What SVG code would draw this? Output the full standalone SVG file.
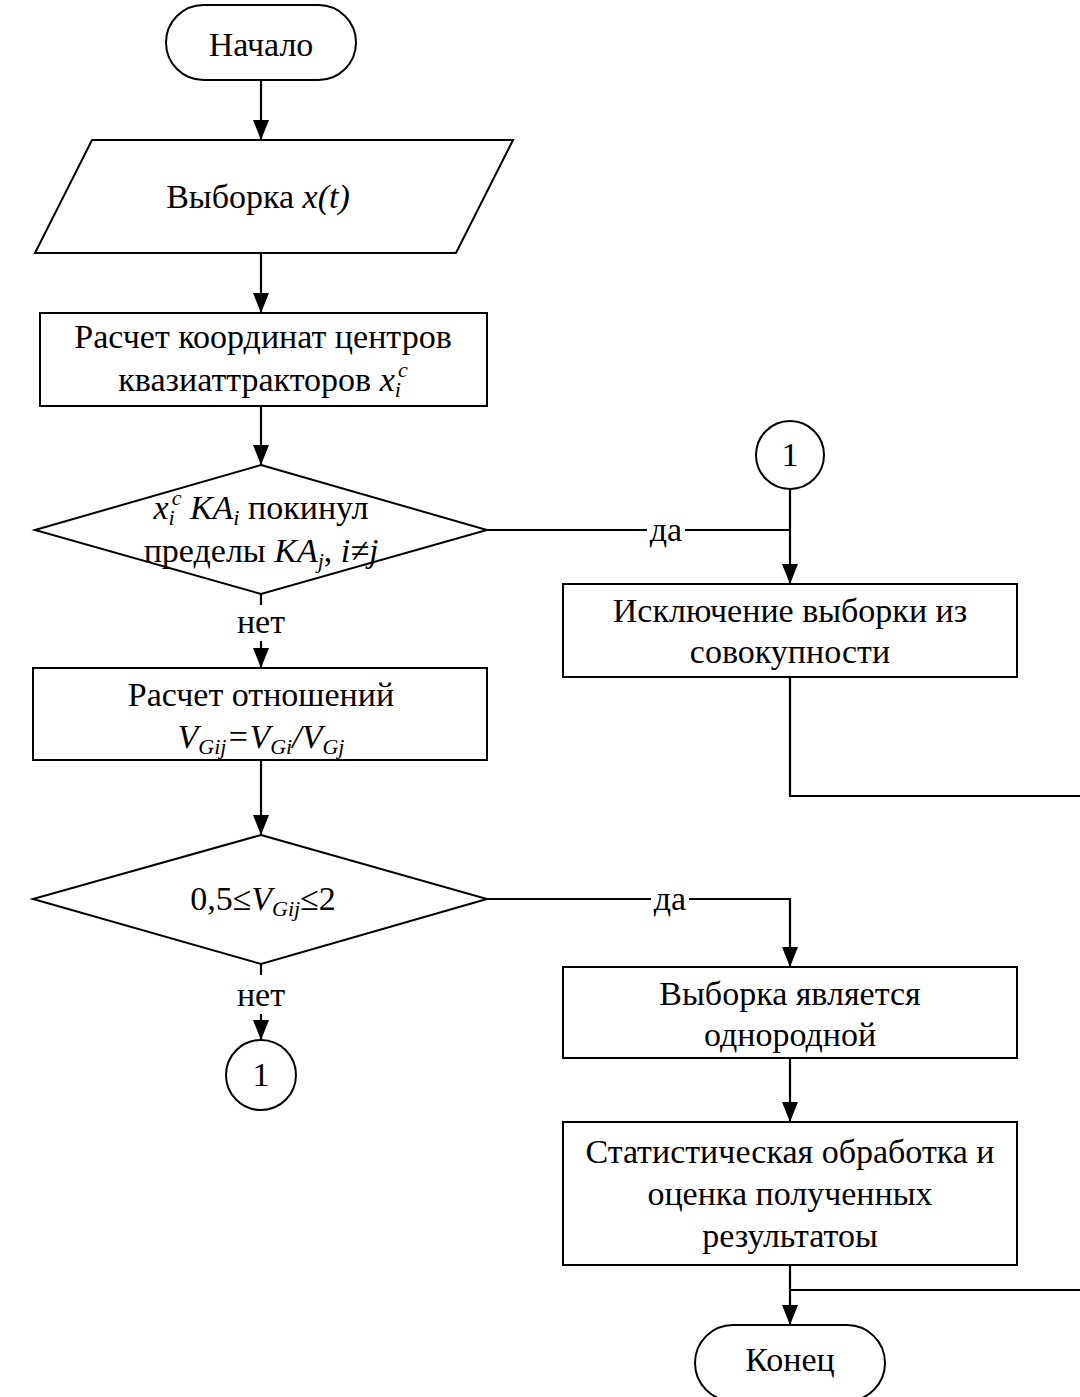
<svg xmlns="http://www.w3.org/2000/svg" width="1080" height="1397" viewBox="0 0 1080 1397">
<defs>
<style>
.s{fill:#fff;stroke:#000;stroke-width:2}
.c{fill:none;stroke:#000;stroke-width:2.2}
.t{font-family:"Liberation Serif","Times New Roman",serif;font-size:34px;fill:#000;text-anchor:middle}
.i{font-style:italic}
.sb{font-size:22px;font-style:italic}
</style>
<marker id="ah" markerUnits="userSpaceOnUse" markerWidth="20" markerHeight="16" refX="20" refY="8" orient="auto">
<path d="M0,0 L20,8 L0,16 z" fill="#000"/>
</marker>
</defs>
<rect width="1080" height="1397" fill="#fff"/>

<g id="connectors">
<line class="c" x1="261" y1="80" x2="261" y2="140" marker-end="url(#ah)"/>
<line class="c" x1="261" y1="253" x2="261" y2="313" marker-end="url(#ah)"/>
<line class="c" x1="261" y1="406" x2="261" y2="465" marker-end="url(#ah)"/>
<line class="c" x1="261" y1="594" x2="261" y2="605"/>
<line class="c" x1="261" y1="641" x2="261" y2="668" marker-end="url(#ah)"/>
<line class="c" x1="487" y1="530" x2="790" y2="530"/>
<line class="c" x1="790" y1="489" x2="790" y2="584" marker-end="url(#ah)"/>
<polyline class="c" points="790,677 790,796 1084,796"/>
<line class="c" x1="261" y1="760" x2="261" y2="835" marker-end="url(#ah)"/>
<line class="c" x1="261" y1="964" x2="261" y2="975"/>
<line class="c" x1="261" y1="1014" x2="261" y2="1040" marker-end="url(#ah)"/>
<polyline class="c" points="487,899 790,899 790,967" marker-end="url(#ah)"/>
<line class="c" x1="790" y1="1058" x2="790" y2="1122" marker-end="url(#ah)"/>
<line class="c" x1="790" y1="1265" x2="790" y2="1325" marker-end="url(#ah)"/>
<line class="c" x1="790" y1="1290" x2="1084" y2="1290"/>
<rect x="647" y="516" width="38" height="28" fill="#fff"/>
<text class="t" x="666" y="541">да</text>
<rect x="651" y="885" width="38" height="28" fill="#fff"/>
<text class="t" x="670" y="910">да</text>
<text class="t" x="261" y="633">нет</text>
<text class="t" x="261" y="1006">нет</text>
</g>

<g id="start">
<rect class="s" x="166" y="5" width="190" height="75" rx="37.5"/>
<text class="t" x="261" y="56">Начало</text>
</g>

<g id="input">
<polygon class="s" points="92,140 513,140 456,253 35,253"/>
<text class="t" x="258" y="208">Выборка <tspan class="i">x(t)</tspan></text>
</g>

<g id="centers">
<rect class="s" x="40" y="313" width="447" height="93"/>
<text class="t" x="263" y="348">Расчет координат центров</text>
<text class="t" x="263" y="391">квазиаттракторов <tspan class="i">x</tspan><tspan class="sb" dy="6">i</tspan><tspan class="sb" dx="-3" dy="-20">c</tspan><tspan dy="14"> </tspan></text>
</g>

<g id="decision1">
<polygon class="s" points="261,465 487,530 261,594 35,530"/>
<text class="t" x="261" y="519"><tspan class="i">x</tspan><tspan class="sb" dy="6">i</tspan><tspan class="sb" dx="-3" dy="-20">c</tspan><tspan dy="14"> </tspan><tspan class="i">KA</tspan><tspan class="sb" dy="6">i</tspan><tspan dy="-6"> покинул</tspan></text>
<text class="t" x="261" y="562">пределы <tspan class="i">KA</tspan><tspan class="sb" dy="6">j</tspan><tspan dy="-6">, </tspan><tspan class="i">i≠j</tspan></text>
</g>

<g id="connector1-in">
<circle class="s" cx="790" cy="455" r="34"/>
<text class="t" x="790" y="466">1</text>
</g>

<g id="exclude">
<rect class="s" x="563" y="584" width="454" height="93"/>
<text class="t" x="790" y="622">Исключение выборки из</text>
<text class="t" x="790" y="663">совокупности</text>
</g>

<g id="ratios">
<rect class="s" x="33" y="668" width="454" height="92"/>
<text class="t" x="261" y="706">Расчет отношений</text>
<text class="t" x="261" y="748"><tspan class="i">V</tspan><tspan class="sb" dy="6">Gij</tspan><tspan class="i" dy="-6">=V</tspan><tspan class="sb" dy="6">Gi</tspan><tspan class="i" dy="-6">/V</tspan><tspan class="sb" dy="6">Gj</tspan></text>
</g>

<g id="decision2">
<polygon class="s" points="261,835 487,899 261,964 33,899"/>
<text class="t" x="263" y="910">0,5≤<tspan class="i">V</tspan><tspan class="sb" dy="6">Gij</tspan><tspan dy="-6">≤2</tspan></text>
</g>

<g id="connector1-out">
<circle class="s" cx="261" cy="1075" r="35"/>
<text class="t" x="261" y="1086">1</text>
</g>

<g id="homogeneous">
<rect class="s" x="563" y="967" width="454" height="91"/>
<text class="t" x="790" y="1005">Выборка является</text>
<text class="t" x="790" y="1046">однородной</text>
</g>

<g id="statistics">
<rect class="s" x="563" y="1122" width="454" height="143"/>
<text class="t" x="790" y="1163">Статистическая обработка и</text>
<text class="t" x="790" y="1205">оценка полученных</text>
<text class="t" x="790" y="1247">результатоы</text>
</g>

<g id="end">
<rect class="s" x="695" y="1325" width="190" height="76" rx="38"/>
<text class="t" x="790" y="1371">Конец</text>
</g>
</svg>
